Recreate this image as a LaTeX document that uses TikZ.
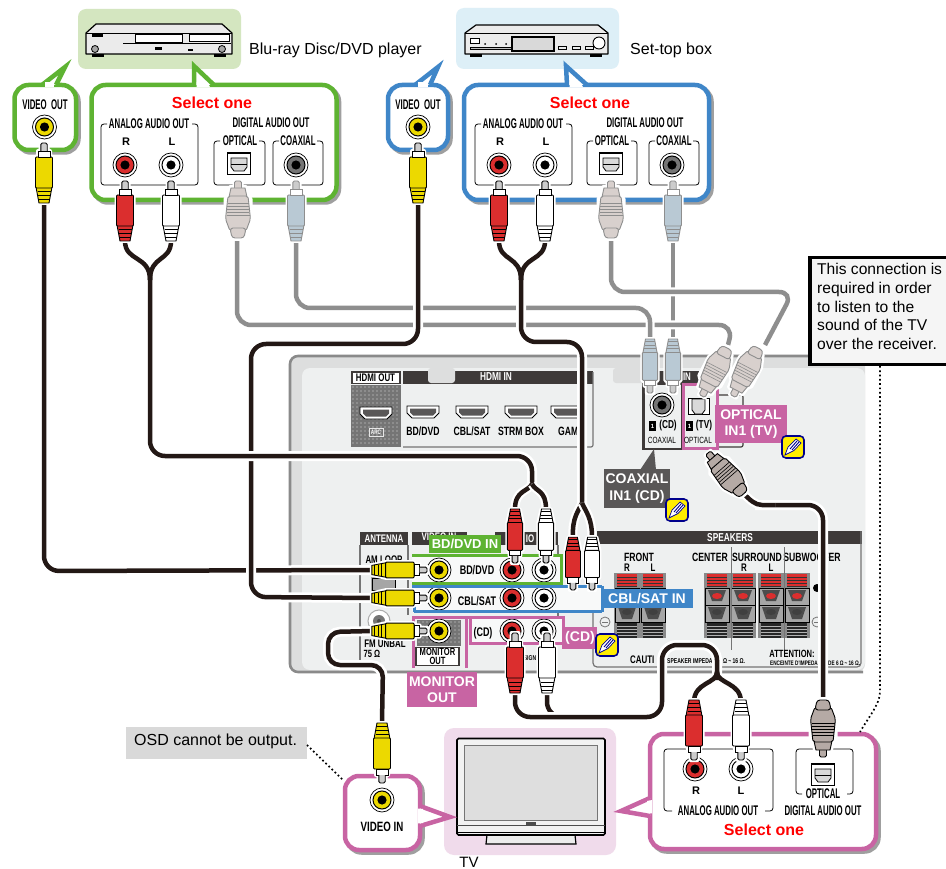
\documentclass[tikz,border=0pt]{standalone}
\usepackage{fontspec}
\setmainfont{Liberation Sans}
\newfontfamily\condf[FakeStretch=0.72]{Liberation Sans}
\newfontfamily\condn[FakeStretch=0.56]{Liberation Sans}
\definecolor{cgreen}{HTML}{5EB332}
\definecolor{cblue}{HTML}{3F86C8}
\definecolor{cpink}{HTML}{C864A3}
\definecolor{cdark}{HTML}{595757}
\definecolor{cblack}{HTML}{231815}
\definecolor{cyel}{HTML}{ECD900}
\definecolor{cred}{HTML}{DB2E2E}
\definecolor{ccoax}{HTML}{B9C9D4}
\definecolor{copt}{HTML}{D8D0CD}
\definecolor{copd}{HTML}{B5AAA5}
\definecolor{cgray}{HTML}{8E8E8E}
\definecolor{cpanel}{HTML}{EEF0F0}
\definecolor{cband}{HTML}{DDDEDE}
\definecolor{cedge}{HTML}{757575}
\definecolor{ctab}{HTML}{3E3A39}
\colorlet{plc}{black}
\newcounter{txc}
\newcommand\fs[1]{\fontsize{#1}{16.5}\selectfont}
\newcommand\tx[4][]{\stepcounter{txc}\node[inner sep=0pt,#1] (tx\arabic{txc}) at (#2,#3) {#4};}
\newcommand\cbold[2]{{\condf\bfseries\fontsize{#1}{#1}\selectfont #2}}
\newcommand\nbold[1]{{\condn\bfseries\fontsize{14}{14}\selectfont #1}}
\newcommand\jack[3]{%
 \draw[black,fill=white,line width=.7] (#1,#2) circle (12);
 \draw[black,fill=#3,line width=1] (#1,#2) circle (9);
 \fill[black] (#1,#2) circle (4.6);}
\newcommand\optjack[2]{%
 \draw[black,fill=white,line width=1.2] (#1-11.5,#2-11) rectangle (#1+11.5,#2+10.5);
 \draw[black,fill=white!85!black,line width=.8] (#1-8,#2-6) -- (#1+8,#2-6) -- (#1+8,#2+3) -- (#1+5,#2+7) -- (#1-5,#2+7) -- (#1-8,#2+3) -- cycle;
 \draw[black,line width=.8] (#1-8,#2) -- (#1+8,#2);}
\newcommand\rcaplug[5]{\begin{scope}[shift={(#1,#2)},rotate=#3,scale=#4]
 \path[draw=white,line width=4,line join=round,fill=white] (-3.5,0)--(3.5,0)--(3.5,8)--(6,8)--(6,13)--(8.5,14)--(8.5,45)--(5,60)--(-5,60)--(-8.5,45)--(-8.5,14)--(-6,13)--(-6,8)--(-3.5,8)--cycle;
 \draw[plc,line width=.9,fill=#5] (-8,44)--(8,44)--(5,60)--(-5,60)--cycle;
 \draw[plc,line width=1] (-6.5,49)--(6.5,49) (-5.8,53)--(5.8,53) (-5.2,57)--(5.2,57);
 \draw[plc,line width=.9,fill=#5,rounded corners=1] (-8.5,14)--(8.5,14)--(8.5,45)--(-8.5,45)--cycle;
 \draw[plc,line width=.9,fill=white] (-6,8)--(6,8)--(6,14)--(-6,14)--cycle;
 \draw[plc,line width=.9,fill=white!80!black,rounded corners=1.5] (-3.2,8)--(-3.2,0)--(3.2,0)--(3.2,8);
\end{scope}}
\newcommand\coaxplug[4]{\begingroup\colorlet{plc}{cgray}\rcaplug{#1}{#2}{#3}{#4}{ccoax}\endgroup}
\newcommand\optplug[6]{\begin{scope}[shift={(#1,#2)},rotate=#3,scale=#4]
 \path[draw=white,line width=4,line join=round,fill=white] (-3.5,0)--(3.5,0)--(3.5,6)--(8,6)--(9,14)--(12.5,18)--(12.5,40)--(8,52)--(4,58)--(-4,58)--(-8,52)--(-12.5,40)--(-12.5,18)--(-9,14)--(-8,6)--(-3.5,6)--cycle;
 \draw[#6,line width=.9,fill=#5,rounded corners=1.5] (-3.5,9)--(-3.5,0)--(3.5,0)--(3.5,9)--cycle;
 \draw[#6,line width=.9,fill=#5] (-7,7)--(7,7)--(9,16)--(-9,16)--cycle;
 \draw[#6,line width=.9,fill=#5,rounded corners=2] (-10,15)--(10,15)--(12.5,38)--(8,50)--(-8,50)--(-12.5,38)--cycle;
 \draw[#6,line width=.9,fill=#5,rounded corners=3] (-8,47)--(8,47)--(6,57)--(-6,57)--cycle;
 \draw[#6,line width=.6] (-10.5,22)--(10.5,22) (-10.8,25)--(10.8,25) (-11,28)--(11,28) (-11.3,31)--(11.3,31) (-11.5,34)--(11.5,34);
\end{scope}}
\newcommand\callout[9]{%
 \draw[line width=4.5,cgray!85,rounded corners=14,shift={(2.5,2.5)}] (#2,#3) rectangle (#4,#5);
 \draw[line width=4.5,#1,fill=white,rounded corners=14] (#2,#3) rectangle (#4,#5);
 \draw[line width=4.5,#1,fill=white,miter limit=8] (#6) -- (#7) -- (#8);
 \fill[white] #9;}
\newcommand\hdmi[2]{%
 \draw[black,line width=.9,fill=white] (#1-16,#2-6) -- (#1+16,#2-6) -- (#1+16,#2+1) -- (#1+11,#2+6) -- (#1-11,#2+6) -- (#1-16,#2+1) -- cycle;
 \fill[cdark] (#1-13,#2-3.5) -- (#1+13,#2-3.5) -- (#1+13,#2+.5) -- (#1+10,#2+3.5) -- (#1-10,#2+3.5) -- (#1-13,#2+.5) -- cycle;}
\newcommand\noteicon[2]{\begin{scope}[shift={(#1,#2)}]
 \draw[fill=yellow!95!orange,draw=blue!55!black,line width=1.6,rounded corners=4] (-11,-11) rectangle (11,11);
 \draw[fill=white,draw=blue!55!black,line width=.7] (-8,8) -- (-5,0) -- (3,-8) -- (8,-4) -- (1,3.5) -- cycle;
 \draw[blue!55!black,line width=.9] (-3,2) -- (4,-6) (-1,3) -- (6,-5);
\end{scope}}
\newcommand\spk[1]{%
 \fill[cedge!85] (#1-13,573) rectangle (#1+13,638);
 \fill[cred] (#1-10,574) rectangle (#1+10,587);
 \draw[black!80,line width=.8] \foreach \q in {577,580,583,586} {(#1-10,\q)--(#1+10,\q)};
 \draw[black,line width=.9,fill=gray!70] (#1-12,588) rectangle (#1+12,605);
 \draw[black,line width=.9,fill=gray!70] (#1-12,605) rectangle (#1+12,622);
 \fill[black!70] (#1-9,590) -- (#1+9,590) -- (#1+5,601) -- (#1-5,601) -- cycle;
 \fill[black!70] (#1-9,607) -- (#1+9,607) -- (#1+5,619) -- (#1-5,619) -- cycle;
 \fill[cred] (#1,596) ellipse (5 and 3);
 \fill[black!75] (#1,612) ellipse (5 and 3);
 \fill[black!85] (#1-10,623) rectangle (#1+10,638);
 \draw[white!70!black,line width=.6] \foreach \q in {626,629,632,635} {(#1-10,\q)--(#1+10,\q)};}
\tikzset{
 bcable/.style={cblack,line width=4.5,rounded corners=15,preaction={draw=white,line width=10}},
 bcurve/.style={cblack,line width=4.5,preaction={draw=white,line width=9}},
 gcable/.style={cgray,line width=4.5,rounded corners=14,preaction={draw=white,line width=9}},
 dotline/.style={black,line width=1.7,dash pattern=on 1.7pt off 2.6pt},
 lab/.style={font=\bfseries\fs{14},text=white,align=center,inner sep=0pt},
}
\begin{document}
\begin{tikzpicture}[x=1pt,y=-1pt]
\useasboundingbox (0,0) rectangle (946,869);
\fill[white] (0,0) rectangle (946,869);
% ---- named cable ends
\coordinate (pgv) at (44,203);
\coordinate (pgr) at (125,241);
\coordinate (pgl) at (171,241);
\coordinate (pgo) at (237,238);
\coordinate (pgc) at (296,241);
\coordinate (pbv) at (418,203);
\coordinate (pbr) at (499,241);
\coordinate (pbl) at (545,241);
\coordinate (pbo) at (611,238);
\coordinate (pbc) at (673,241);
\coordinate (rvg) at (373,570);
\coordinate (rvb) at (373,598);
\coordinate (rvm) at (373,631);
\coordinate (ragr) at (515,509);
\coordinate (ragl) at (546,509);
\coordinate (rabr) at (573,537);
\coordinate (rabl) at (592,537);
\coordinate (rcr) at (515,693);
\coordinate (rcl) at (547,693);
\coordinate (tvr) at (694,702);
\coordinate (tvl) at (741,702);
\coordinate (tvo) at (823,700);
\coordinate (rco) at (743,493);
\coordinate (tvv) at (382,723);
\coordinate (rc1) at (650,338);
\coordinate (rc2) at (673,338);
\coordinate (ro1) at (728,345);
\coordinate (ro2) at (765,345);
% ---- receiver panel
\fill[cband,rounded corners=8] (290,356) rectangle (865,672);
\fill[cpanel,rounded corners=8] (302,368) -- (865,368) -- (865,670) -- (302,670) -- cycle;
\draw[cedge!85,line width=2.6,rounded corners=8] (808,356) -- (290,356) -- (290,672) -- (863,672);
% HDMI
\fill[ctab] (351,371) rectangle (401,384);
\fill[white] (353,373) rectangle (399,382.5);
\tx{375.5}{377.7}{\cbold{11}{\textcolor{black}{HDMI OUT}}}
\fill[cedge] (351,385) rectangle (401,447);
\foreach \xx in {353,357,...,399} \foreach \yy in {387,391,...,445} \fill[white!75!gray] (\xx,\yy) circle (.55);
\fill[ctab] (403,371) rectangle (593,384);
\draw[cedge,line width=1.2,rounded corners=2] (593,372) -- (593,447) -- (403,447);
\fill[cband,rounded corners=3] (428,368) rectangle (455,383);
\tx{496}{377}{\cbold{11.5}{\textcolor{white}{HDMI IN}}}
\fill[cband,rounded corners=3] (613,368) rectangle (645,383);
\hdmi{376}{413}
\hdmi{423}{412}
\hdmi{472}{412}
\hdmi{521}{412}
\hdmi{567}{412}
\draw[white!80!gray,line width=.8] (369,428) rectangle (383,436);
\tx{376}{432}{\cbold{6.5}{\textcolor{white}{ARC}}}
\tx{423}{431.5}{\cbold{12}{BD/DVD}}
\tx{472}{431.5}{\cbold{12}{CBL/SAT}}
\tx{521}{431.5}{\cbold{12}{STRM BOX}}
\tx{571}{431.5}{\cbold{12}{GAME}}
% antenna
\fill[ctab] (360,532) rectangle (408,545);
\draw[cedge,line width=1.1] (360,545) -- (360,660) (408,545) -- (408,615);
\tx{384}{538.5}{\cbold{11}{\textcolor{white}{ANTENNA}}}
\tx{384}{560}{\cbold{11}{AM LOOP}}
\fill[gray!70] (371,577) rectangle (396,591);
\draw[black,line width=.7] (372,578) rectangle (395,590);
\draw[cedge!60,fill=white,line width=1] (379,621) circle (11);
\fill[cedge] (379,621) circle (6);
\fill[black!70] (379,621) circle (2);
\tx{385}{644}{\cbold{11}{FM UNBAL}}
\tx{372}{654}{\cbold{10.5}{75 Ω}}
% video in and audio tabs
\fill[ctab] (412,532) rectangle (467,545);
\tx{439}{537}{\cbold{11}{\textcolor{white}{VIDEO IN}}}
\fill[ctab] (495,532) rectangle (558,545);
\tx{530}{539}{\cbold{11}{\textcolor{white}{IO}}}
\draw[cedge,line width=1.1] (558,545) -- (558,620);
\tx{530}{658}{\cbold{7}{SIGN}}
% speakers
\fill[ctab] (597,531) rectangle (862,544);
\tx{730}{537.5}{\cbold{11.5}{\textcolor{white}{SPEAKERS}}}
\draw[cedge,line width=1.2,rounded corners=4] (861,531) -- (861,667) -- (593,667) -- (593,610);
\tx{639}{557}{\cbold{12}{FRONT}}
\tx{627}{568}{\cbold{11}{R}}
\tx{653}{568}{\cbold{11}{L}}
\tx{710}{557}{\cbold{12}{CENTER}}
\tx{757}{557}{\cbold{12}{SURROUND}}
\tx{744}{568}{\cbold{11}{R}}
\tx{771}{568}{\cbold{11}{L}}
\tx{812}{557}{\cbold{12}{SUBWOOFER}}
\spk{627}\spk{653}\spk{717}\spk{743}\spk{771}\spk{797}
\draw[cedge,line width=.8] (731,547) -- (731,650) (784,547) -- (784,650);
\fill[black] (817,588) circle (4);
\draw[cedge,line width=.8] (817,622) circle (5);
\draw[cedge,line width=.8] (814,622) -- (820,622);
\draw[cedge,line width=.8,fill=cpanel] (605,622) circle (5);
\draw[cedge,line width=.8] (602,622) -- (608,622);
\tx[anchor=west]{630}{660}{\cbold{11}{CAUTI}}
\tx[anchor=west]{667}{661.5}{\cbold{7}{SPEAKER IMPEDAN}}
\tx[anchor=west]{723}{661.5}{\cbold{7}{Ω\,\textasciitilde\,16 Ω.}}
\tx{792}{654}{\cbold{10.5}{ATTENTION:}}
\tx[anchor=west]{770}{663}{\cbold{6.5}{ENCEINTE D'IMPEDAN}}
\tx[anchor=west]{828}{663}{\cbold{6.5}{DE 6 Ω\,\textasciitilde\,16 Ω.}}
% rows
\fill[white!60!cpanel] (412,555) rectangle (561,583);
\fill[white!60!cpanel] (412,586) rectangle (603,611);
\fill[white!60!cpanel] (470,617) rectangle (563,643);
\fill[cedge] (417,620) rectangle (461,646);
\foreach \xx in {419,423,...,459} \foreach \yy in {622,626,...,644} \fill[white!75!gray] (\xx,\yy) circle (.55);
\node[draw=ctab,fill=white,line width=1.2,minimum width=43pt,minimum height=18pt,inner sep=0pt,align=center,font=\condf\bfseries\fontsize{10.5}{9.5}\selectfont] (monbox) at (437.5,656.5) {MONITOR\\OUT};
\jack{439}{570}{cyel}\jack{512}{570}{cred}\jack{544}{570}{white}
\jack{439}{598}{cyel}\jack{512}{598}{cred}\jack{544}{598}{white}
\jack{439}{631}{cyel}\jack{512}{631}{cred}\jack{544}{631}{white}
\tx{477}{570}{\cbold{12.5}{BD/DVD}}
\tx{477}{601}{\cbold{12.5}{CBL/SAT}}
\tx{483}{633}{\cbold{12.5}{(CD)}}
% brackets and labels on the panel
\draw[cpink,line width=3] (413.5,668) -- (413.5,617) -- (563,617) -- (563,628);
\draw[cpink,line width=3] (466,617) -- (466,668);
\draw[cpink,line width=3] (470,617) -- (470,643) -- (563,643);
\fill[cpink] (562,627) rectangle (597,649);
\tx{580}{638}{\bfseries\fs{14}\textcolor{white}{(CD)}}
\node[fill=cpink,lab,minimum width=70pt,minimum height=35pt] (monlab) at (442,689.5) {MONITOR\\OUT};
\draw[cgreen,line width=3] (412,555) -- (561,555) -- (561,583) -- (412,583);
\node[fill=cgreen,lab,font=\bfseries\fs{13},minimum width=72pt,minimum height=18pt] (bdlab) at (465,544) {BD/DVD IN};
\draw[cblue,line width=3] (412,586) -- (602,586) (414,611.5) -- (602,611.5);
\draw[cblue,line width=3] (414,611.5) -- (414,606);
\node[fill=cblue,lab,minimum width=92pt,minimum height=19pt] (cbllab) at (647,598.5) {CBL/SAT IN};
\fill[cblue] (601,586) rectangle (604,612);
% coax and optical panels
\fill[ctab] (643,371) rectangle (717,384);
\tx{687}{377}{\cbold{11}{\textcolor{white}{IN}}}
\draw[ctab,fill=cpanel,line width=2.5] (643.5,384) rectangle (682,449);
\jack{662}{405}{cedge}
\fill[black] (649,421) rectangle (656,431);
\tx{652.5}{426}{\bfseries\fontsize{6}{6}\selectfont\textcolor{white}{1}}
\tx{668}{426}{\cbold{11.5}{(CD)}}
\tx{662}{440}{\condf\fontsize{9}{9}\selectfont COAXIAL}
\draw[ctab,line width=1.2,rounded corners=2] (717,395) -- (743,395) -- (743,447) -- (717,447);
\draw[cpink,fill=cpanel,line width=3] (683.5,384) rectangle (717,448);
\draw[black,fill=white,line width=1] (688,398) rectangle (709,414);
\draw[black,fill=gray!30,line width=.8] (692,399) -- (705,399) -- (705,410) -- (702,414) -- (695,414) -- (692,410) -- cycle;
\fill[black] (686,421) rectangle (693,431);
\tx{689.5}{426}{\bfseries\fontsize{6}{6}\selectfont\textcolor{white}{1}}
\tx{704}{426}{\cbold{11.5}{(TV)}}
\tx{698}{440}{\condf\fontsize{9}{9}\selectfont OPTICAL}
\node[fill=cpink,lab,minimum width=72pt,minimum height=38pt] (optlab) at (751,424) {OPTICAL\\IN1 (TV)};
\fill[cdark] (654,449) -- (640,470) -- (656,470) -- cycle;
\node[fill=cdark,lab,minimum width=66pt,minimum height=39pt] (coaxlab) at (637,488.5) {COAXIAL\\IN1 (CD)};
\noteicon{677}{510}
\noteicon{793}{447}
\noteicon{607}{645}
% device backdrops
\definecolor{bgg}{HTML}{D4E6C0}
\definecolor{bgb}{HTML}{DDEFF7}
\definecolor{bgp}{HTML}{F0DBEB}
\fill[bgg,rounded corners=8] (78,9) rectangle (241,69);
\fill[bgb,rounded corners=8] (456,8) rectangle (619,69);
\fill[bgp,rounded corners=10] (444,728) rectangle (616,855);
% BD player
\draw[black,line width=1.2,fill=white!92!black,line join=round] (86,33) -- (96,24) -- (222,24) -- (232,33) -- (232,54) -- (86,54) -- cycle;
\draw[black,line width=.9] (86,33) -- (232,33);
\draw[black,line width=.8,fill=white] (135,34.5) rectangle (182,42);
\draw[black,line width=.8,fill=white] (189,34.5) rectangle (229,41);
\draw[black,line width=.7] (123,43) -- (231,43);
\fill[black] (92,34) rectangle (103,37);
\draw[black,fill=gray!70,line width=.8] (95,49) circle (3.5);
\draw[black,fill=gray!70,line width=.8] (222,49) circle (3.5);
\fill[black] (155,47.5) rectangle (162,50);
\fill[black] (188,49) rectangle (193,51.5);
\fill[black] (92,54) rectangle (104,57);
\fill[black] (214,54) rectangle (226,57);
% set-top box
\draw[black,line width=1.2,fill=white!92!black,line join=round] (465,33) -- (476,25) -- (598,25) -- (608,33) -- (608,54) -- (465,54) -- cycle;
\draw[black,line width=.9] (465,33) -- (608,33);
\draw[black,line width=1.1,fill=white!85!black] (512,37) rectangle (554,51);
\draw[black,line width=.8,fill=white] (470,38) rectangle (479,43);
\fill[black] (485,44) circle (1) (496,44) circle (1) (506,44) circle (1);
\draw[black,line width=.8,fill=gray!50] (470,47) rectangle (511,49.5);
\draw[black,line width=.7] (558,46.5) rectangle (566,49.5) (572,46.5) rectangle (580,49.5) (585,46.5) rectangle (593,49.5);
\draw[black,line width=.9,fill=white] (599,43) circle (6);
\fill[black] (470,54) rectangle (482,57);
\fill[black] (590,54) rectangle (602,57);
% TV
\draw[black,line width=1.2,fill=white!85!gray] (487,835) -- (575,835) -- (576,844) -- (486,844) -- cycle;
\draw[black,line width=1.6,fill=white!95!black,rounded corners=1.5] (457,738.5) rectangle (605,835);
\draw[cedge,line width=1,fill=white!87!black] (464,745) rectangle (597,820);
\draw[black!70,line width=.8] (457,825) -- (605,825);
\draw[black,line width=1] (457,832) -- (605,832);
\fill[black!70] (526,822) rectangle (536,824.5);
% top texts
\tx[anchor=west]{249}{50}{\fs{16}Blu-ray Disc/DVD player}
\tx[anchor=west]{630}{50}{\fs{16}Set-top box}
\tx{469}{862.5}{\fs{15}TV}
% callouts
\callout{cgreen}{14.5}{85}{76}{150}{42,85}{65,67}{56,85}{(44.5,87.2) -- (53.5,87.2) -- (53.5,82) -- (44.5,82) -- cycle}
\callout{cgreen}{91.5}{85}{336.5}{200}{194,85}{194,66}{214,85}{(196.5,87.2) -- (210,87.2) -- (208,83) -- (196.5,82) -- cycle}
\callout{cblue}{388}{85}{448}{150}{415,85}{438,67}{430,85}{(417.5,87.2) -- (427.5,87.2) -- (427.5,82) -- (417.5,82) -- cycle}
\callout{cblue}{464}{85}{709}{200}{567,85}{566,66}{587,85}{(569.5,87.2) -- (583,87.2) -- (581,83) -- (569.5,82) -- cycle}
\callout{cpink}{345}{776}{420}{850}{420,806}{450,817}{420,826}{(417.8,808.5) -- (417.8,823.5) -- (423,823) -- (423,809) -- cycle}
\callout{cpink}{650}{734}{876}{849}{650,798}{621,811}{650,816}{(652.2,800) -- (652.2,813.5) -- (647,813) -- (647,801) -- cycle}
% labels in callouts
\tx{45}{105}{\nbold{VIDEO\ \ OUT}}
\tx{418}{105}{\nbold{VIDEO\ \ OUT}}
\jack{44.5}{127}{cyel}
\jack{418}{127}{cyel}
\tx{212}{103}{\textcolor{red}{\bfseries\fontsize{16}{16}\selectfont Select one}}
\tx{590}{103}{\textcolor{red}{\bfseries\fontsize{16}{16}\selectfont Select one}}
% green frames
\draw[black,line width=.8,rounded corners=3] (107,124) -- (101,124) -- (101,185) -- (198,185) -- (198,124) -- (192,124);
\tx{149}{124}{\nbold{ANALOG AUDIO OUT}}
\tx{271}{123}{\nbold{DIGITAL AUDIO OUT}}
\draw[black,line width=.8,rounded corners=3] (220,141) -- (214,141) -- (214,185) -- (265,185) -- (265,141) -- (259,141);
\tx{240}{141}{\nbold{OPTICAL}}
\draw[black,line width=.8,rounded corners=3] (279,141) -- (273,141) -- (273,185) -- (323,185) -- (323,141) -- (317,141);
\tx{298}{141}{\nbold{COAXIAL}}
\tx{126}{142}{\bfseries\fs{11}R}
\tx{172}{142}{\bfseries\fs{11}L}
\jack{125}{165}{cred}\jack{171}{165}{white}\jack{296}{165}{cedge}
\optjack{239}{164}
% blue frames
\draw[black,line width=.8,rounded corners=3] (481,124) -- (475,124) -- (475,185) -- (572,185) -- (572,124) -- (566,124);
\tx{523}{124}{\nbold{ANALOG AUDIO OUT}}
\tx{645}{123}{\nbold{DIGITAL AUDIO OUT}}
\draw[black,line width=.8,rounded corners=3] (593,141) -- (587,141) -- (587,185) -- (637,185) -- (637,141) -- (631,141);
\tx{612}{141}{\nbold{OPTICAL}}
\draw[black,line width=.8,rounded corners=3] (655,141) -- (649,141) -- (649,185) -- (699,185) -- (699,141) -- (693,141);
\tx{674}{141}{\nbold{COAXIAL}}
\tx{500}{142}{\bfseries\fs{11}R}
\tx{546}{142}{\bfseries\fs{11}L}
\jack{499}{165}{cred}\jack{545}{165}{white}\jack{672}{165}{cedge}
\optjack{611}{164}
% TV callouts content
\jack{382}{800}{cyel}
\tx{382}{827}{\cbold{13.5}{VIDEO IN}}
\draw[black,line width=.8,rounded corners=3] (672,811) -- (664,811) -- (664,749) -- (773,749) -- (773,811) -- (765,811);
\tx{718}{811}{\nbold{ANALOG AUDIO OUT}}
\draw[black,line width=.8,rounded corners=3] (802,794) -- (796,794) -- (796,749) -- (853,749) -- (853,794) -- (847,794);
\tx{823}{794}{\nbold{OPTICAL}}
\tx{823}{811}{\nbold{DIGITAL AUDIO OUT}}
\tx{696}{791}{\bfseries\fs{11}R}
\tx{741}{791}{\bfseries\fs{11}L}
\jack{695}{769}{cred}\jack{741}{769}{white}
\optjack{823}{775}
\tx{764}{830}{\textcolor{red}{\bfseries\fontsize{16}{16}\selectfont Select one}}
% OSD box, note and dotted lines
\node[fill=black!15,minimum width=181pt,minimum height=32pt,inner sep=0pt] (osd) at (216.5,743) {};
\tx[anchor=west]{134}{741}{\fs{16}OSD cannot be output.}
\coordinate (osdvia) at (307,745);
\coordinate (vcorner) at (343,780);
\draw[dotline] (osdvia) -- (vcorner);
\coordinate (dotend) at (860,732);
% gray cables
\draw[gcable,rounded corners=0] (pbc) -- (rc2);
\draw[gcable] (pgo) -- (237,325) -- (733,325) -- (ro1);
\draw[gcable] (pgc) -- (296,308) -- (650,308) -- (rc1);
\draw[gcable] (pbo) -- (611,292) -- (793,292) -- (ro2);
% black cables
\draw[bcable] (pgv) -- (44,571) -- (rvg);
\draw[bcable] (pbv) -- (418,344) -- (251,344) -- (251,597) -- (rvb);
\draw[bcable,rounded corners=12] (rvm) -- (328,632) -- (328,665) -- (383,665) [rounded corners=15] -- (tvv);
\draw[bcable] (150,275) -- (150,456) -- (532,456) -- (532,488);
\draw[bcurve] (532,484) .. controls (528,492) and (515,490) .. (ragr);
\draw[bcurve] (532,484) .. controls (536,492) and (546,490) .. (ragl);
\draw[bcable] (521,275) -- (521,342) -- (582,342) -- (582,503);
\draw[bcurve] (582,503) .. controls (578,512) and (572,518) .. (rabr);
\draw[bcurve] (582,503) .. controls (586,512) and (592,518) .. (rabl);
\draw[cblack,line width=4.5] (pgr) .. controls (125,262) and (150,255) .. (150,280);
\draw[cblack,line width=4.5] (pgl) .. controls (171,262) and (150,255) .. (150,280);
\draw[cblack,line width=4.5] (pbr) .. controls (499,262) and (521,255) .. (521,280);
\draw[cblack,line width=4.5] (pbl) .. controls (545,262) and (521,255) .. (521,280);
\draw[bcable] (rcl) -- (547,717) -- (640,717);
\draw[bcable] (rcr) -- (515,717) -- (662,717) -- (662,645) -- (717,645) -- (717,680);
\draw[cblack,line width=4.5] (717,672) .. controls (717,684) and (694,682) .. (tvr);
\draw[cblack,line width=4.5] (717,672) .. controls (717,684) and (741,682) .. (tvl);
\draw[bcable] (tvo) -- (823,505) -- (755,505);
\draw[bcurve] (775,505) -- (762,505) .. controls (755,505) and (750,500) .. (rco);
% plugs at devices
\rcaplug{44}{143}{0}{1}{cyel}
\rcaplug{418}{143}{0}{1}{cyel}
\rcaplug{125}{181}{0}{1}{cred}
\rcaplug{171}{181}{0}{1}{white}
\coaxplug{296}{181}{0}{1}
\rcaplug{499}{181}{0}{1}{cred}
\rcaplug{545}{181}{0}{1}{white}
\coaxplug{673}{181}{0}{1}
\optplug{238}{181}{0}{1}{copt}{cgray}
\optplug{611}{181}{0}{1}{copt}{cgray}
% plugs at receiver
\rcaplug{427}{570}{-90}{.92}{cyel}
\rcaplug{427}{598}{-90}{.92}{cyel}
\rcaplug{427}{631}{-90}{.92}{cyel}
\rcaplug{515}{563}{180}{.9}{cred}
\rcaplug{546}{563}{180}{.9}{white}
\rcaplug{573}{590}{180}{.88}{cred}
\rcaplug{592}{590}{180}{.88}{white}
\rcaplug{515}{633}{0}{1}{cred}
\rcaplug{547}{633}{0}{1}{white}
\coaxplug{650}{393}{180}{.9}
\coaxplug{673}{393}{180}{.9}
\optplug{702}{396}{152.5}{.95}{copt}{cgray}
\optplug{733}{396}{152.5}{.95}{copt}{cgray}
\optplug{708}{453}{41}{.95}{copd}{black}
% plugs at TV
\rcaplug{382}{783}{180}{1}{cyel}
\rcaplug{694}{760}{180}{1}{cred}
\rcaplug{741}{760}{180}{1}{white}
\optplug{823}{757}{180}{1}{copd}{black}
% note box
\coordinate (dotstart) at (880,366);
\draw[dotline] (dotstart) -- (880,692) .. controls (880,704) and (868,718) .. (dotend);
\node[draw=black,fill=white!96!black,line width=3.4,minimum width=150pt,minimum height=107pt,inner sep=0pt] (notebox) at (885,311) {};
\node[anchor=north west,inner sep=0pt,align=left,font=\fontsize{15.6}{18.8}\selectfont] (notetext) at (817,263) {This connection is\\required in order\\to listen to the\\sound of the TV\\over the receiver.};
\end{tikzpicture}
\end{document}
